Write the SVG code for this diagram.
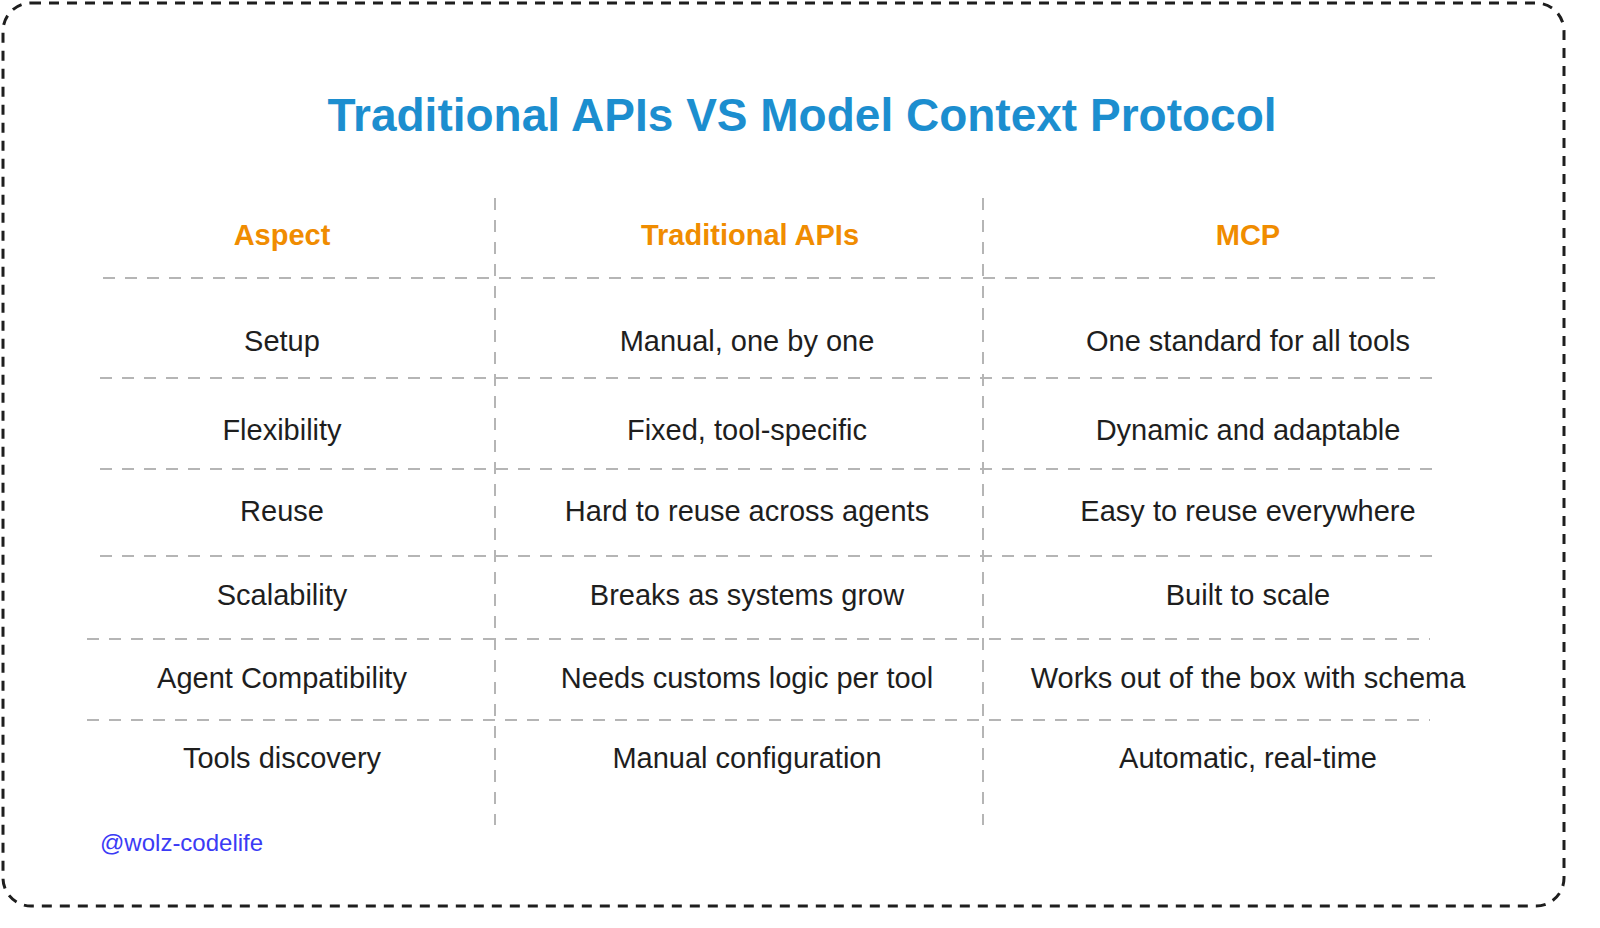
<svg xmlns="http://www.w3.org/2000/svg" width="1600" height="928" viewBox="0 0 1600 928">
<style>
.t{font-family:"Liberation Sans",Arial,sans-serif;text-anchor:middle;}
.cell{font-size:29px;fill:#1e1e1e;}
.hd{font-size:29px;fill:#f08c00;font-weight:bold;}
.ln{stroke:#b5b5b5;stroke-width:2;stroke-dasharray:12 10;fill:none;}
</style>
<rect width="1600" height="928" fill="#ffffff"/>
<rect x="3" y="3" width="1561" height="903" rx="28" fill="none" stroke="#1e1e1e" stroke-width="3" stroke-dasharray="10 8"/>
<text class="t" x="802" y="131" font-size="46" font-weight="bold" fill="#1c8ecf">Traditional APIs VS Model Context Protocol</text>
<g id="grid">
<path class="ln" d="M495 198V825M983 198V825"/>
<path class="ln" d="M103 278H1445M100 378H1440M100 469H1440M100 556H1440M87 639H1430M87 720H1430"/>
</g>
<g id="header">
<text class="t hd" x="282" y="245">Aspect</text>
<text class="t hd" x="750" y="245">Traditional APIs</text>
<text class="t hd" x="1248" y="245">MCP</text>
</g>
<g id="row1"><text class="t cell" x="282" y="351">Setup</text><text class="t cell" x="747" y="351">Manual, one by one</text><text class="t cell" x="1248" y="351">One standard for all tools</text></g>
<g id="row2"><text class="t cell" x="282" y="440">Flexibility</text><text class="t cell" x="747" y="440">Fixed, tool-specific</text><text class="t cell" x="1248" y="440">Dynamic and adaptable</text></g>
<g id="row3"><text class="t cell" x="282" y="521">Reuse</text><text class="t cell" x="747" y="521">Hard to reuse across agents</text><text class="t cell" x="1248" y="521">Easy to reuse everywhere</text></g>
<g id="row4"><text class="t cell" x="282" y="605">Scalability</text><text class="t cell" x="747" y="605">Breaks as systems grow</text><text class="t cell" x="1248" y="605">Built to scale</text></g>
<g id="row5"><text class="t cell" x="282" y="688">Agent Compatibility</text><text class="t cell" x="747" y="688">Needs customs logic per tool</text><text class="t cell" x="1248" y="688">Works out of the box with schema</text></g>
<g id="row6"><text class="t cell" x="282" y="768">Tools discovery</text><text class="t cell" x="747" y="768">Manual configuration</text><text class="t cell" x="1248" y="768">Automatic, real-time</text></g>
<text x="100" y="851" font-family="Liberation Sans,Arial,sans-serif" font-size="24" fill="#3b3bf5">@wolz-codelife</text>
</svg>
